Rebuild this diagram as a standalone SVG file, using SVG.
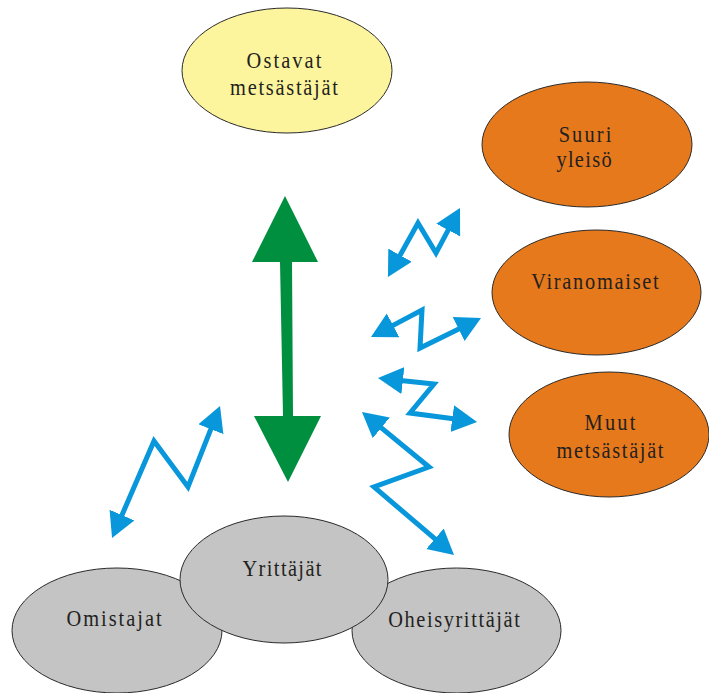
<svg xmlns="http://www.w3.org/2000/svg" width="709" height="693" viewBox="0 0 709 693">
<style>
.node ellipse{stroke:#2a2a2a;stroke-width:1}
.yellow{fill:#fdf59e}
.orange{fill:#e6791b}
.gray{fill:#c4c4c4}
text{font-family:"Liberation Serif","Times New Roman",serif;font-size:24px;fill:#231f20;text-anchor:middle}
.conn{fill:none;stroke:#0897db;stroke-width:5;stroke-linejoin:miter;marker-start:url(#head);marker-end:url(#head)}
</style>
<defs>
<marker id="head" markerUnits="userSpaceOnUse" markerWidth="26" markerHeight="28" refX="7" refY="13.5" orient="auto-start-reverse" viewBox="0 0 26 28">
<path d="M0,0 L25,13.5 L0,27 z" fill="#0897db"/>
</marker>
</defs>
<g id="ostavat" class="node">
<ellipse class="yellow" cx="287" cy="70.5" rx="105" ry="62.5"/>
<text transform="translate(284,68) scale(0.85,1)" textLength="88" lengthAdjust="spacing">Ostavat</text>
<text transform="translate(284,95) scale(0.85,1)" textLength="127" lengthAdjust="spacing">metsästäjät</text>
</g>
<g id="suuri" class="node">
<ellipse class="orange" cx="587" cy="144.5" rx="105" ry="62.5"/>
<text transform="translate(585,142) scale(0.85,1)" textLength="62" lengthAdjust="spacing">Suuri</text>
<text transform="translate(584,167) scale(0.85,1)" textLength="65" lengthAdjust="spacing">yleisö</text>
</g>
<g id="viranomaiset" class="node">
<ellipse class="orange" cx="596.5" cy="292.5" rx="104.5" ry="62.5"/>
<text transform="translate(595,289) scale(0.85,1)" textLength="150" lengthAdjust="spacing">Viranomaiset</text>
</g>
<g id="muut" class="node">
<ellipse class="orange" cx="609" cy="434.5" rx="100" ry="62.5"/>
<text transform="translate(610,430) scale(0.85,1)" textLength="60" lengthAdjust="spacing">Muut</text>
<text transform="translate(610,458) scale(0.85,1)" textLength="126" lengthAdjust="spacing">metsästäjät</text>
</g>
<g id="omistajat" class="node">
<ellipse class="gray" cx="117" cy="630.5" rx="105" ry="62.5"/>
<text transform="translate(114,626) scale(0.85,1)" textLength="112" lengthAdjust="spacing">Omistajat</text>
</g>
<g id="oheisyrittajat" class="node">
<ellipse class="gray" cx="456.5" cy="630.5" rx="104.5" ry="62.5"/>
<text transform="translate(454,627) scale(0.85,1)" textLength="155" lengthAdjust="spacing">Oheisyrittäjät</text>
</g>
<g id="yrittajat" class="node">
<ellipse class="gray" cx="284" cy="579.5" rx="104" ry="63.5"/>
<text transform="translate(282,576) scale(0.85,1)" textLength="93" lengthAdjust="spacing">Yrittäjät</text>
</g>
<g id="connectors">
<polygon points="285,196 318,262 292,262 293,416 321,416 288,482 254,416 283,416 280,262 252,262" fill="#008f3f"/>
<polyline class="conn" points="396.7,261.3 418,223 436,253 451.5,223.9"/>
<polyline class="conn" points="386.9,328.6 422,310 420,348 464.9,325.9"/>
<polyline class="conn" points="395.9,379.9 434,384 410,413 459.2,419.6"/>
<polyline class="conn" points="375.9,423.4 429,467 374,487 440.3,543.3"/>
<polyline class="conn" points="119.2,521.5 154,441 188,487 213.4,422.7"/>
</g>
</svg>
